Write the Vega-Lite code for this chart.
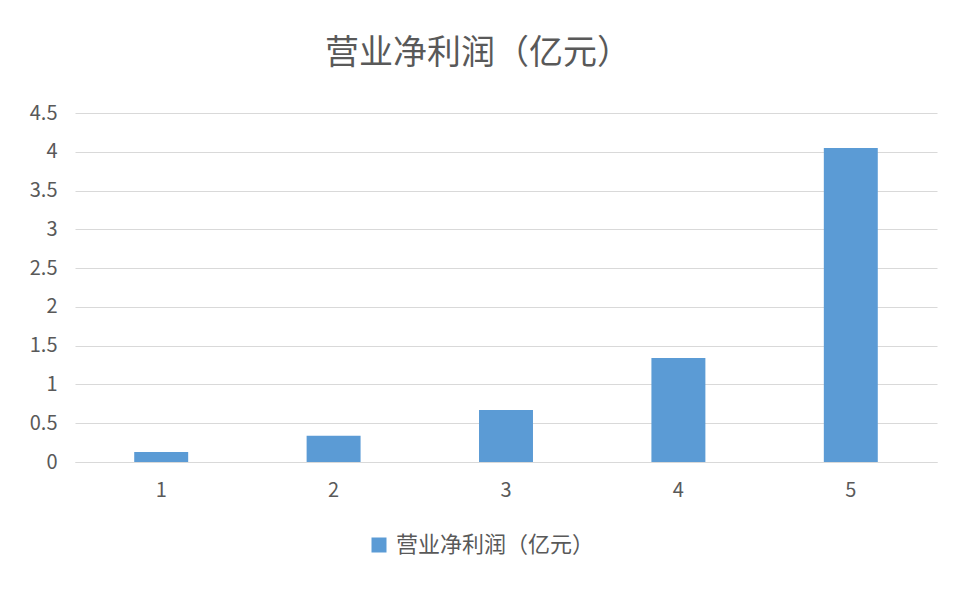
{
  "$schema": "https://vega.github.io/schema/vega-lite/v6.json",
  "width": 862,
  "height": 349,
  "autosize": {"type": "none"},
  "padding": {"left": 75, "top": 113, "right": 39, "bottom": 134},
  "background": "white",
  "title": {
    "text": "营业净利润（亿元）",
    "font": "Noto Sans CJK SC",
    "fontSize": 34,
    "fontWeight": "normal",
    "color": "#595959",
    "anchor": "middle",
    "dx": -28,
    "offset": 32
  },
  "data": {
    "values": [
      {"period": "1", "profit": 0.13},
      {"period": "2", "profit": 0.34},
      {"period": "3", "profit": 0.67},
      {"period": "4", "profit": 1.34},
      {"period": "5", "profit": 4.05}
    ]
  },
  "mark": {"type": "bar"},
  "encoding": {
    "x": {
      "field": "period",
      "type": "ordinal",
      "title": null,
      "scale": {"paddingInner": 0.687, "paddingOuter": 0.3435},
      "axis": {
        "labelAngle": 0,
        "ticks": false,
        "labelPadding": 18,
        "domainColor": "#d9d9d9",
        "domainWidth": 1.2
      }
    },
    "y": {
      "field": "profit",
      "type": "quantitative",
      "title": null,
      "scale": {"domain": [0, 4.5], "nice": false},
      "axis": {
        "values": [0, 0.5, 1, 1.5, 2, 2.5, 3, 3.5, 4, 4.5],
        "format": "~g",
        "domain": false,
        "ticks": false,
        "labelPadding": 18,
        "gridColor": "#d9d9d9",
        "gridWidth": 1.2
      }
    },
    "color": {
      "datum": "营业净利润（亿元）",
      "type": "nominal",
      "scale": {"range": ["#5B9BD5"]},
      "legend": {
        "title": null,
        "orient": "none",
        "legendX": 293,
        "legendY": 421,
        "symbolType": "square",
        "symbolSize": 225,
        "symbolStrokeWidth": 0,
        "symbolOpacity": 1,
        "labelFontSize": 22,
        "labelFont": "Noto Sans CJK SC",
        "labelColor": "#595959",
        "labelOffset": 6,
        "labelLimit": 0
      }
    }
  },
  "config": {
    "view": {"stroke": null},
    "axis": {
      "labelFont": "Noto Sans CJK SC",
      "labelFontSize": 20,
      "labelColor": "#595959"
    }
  }
}
